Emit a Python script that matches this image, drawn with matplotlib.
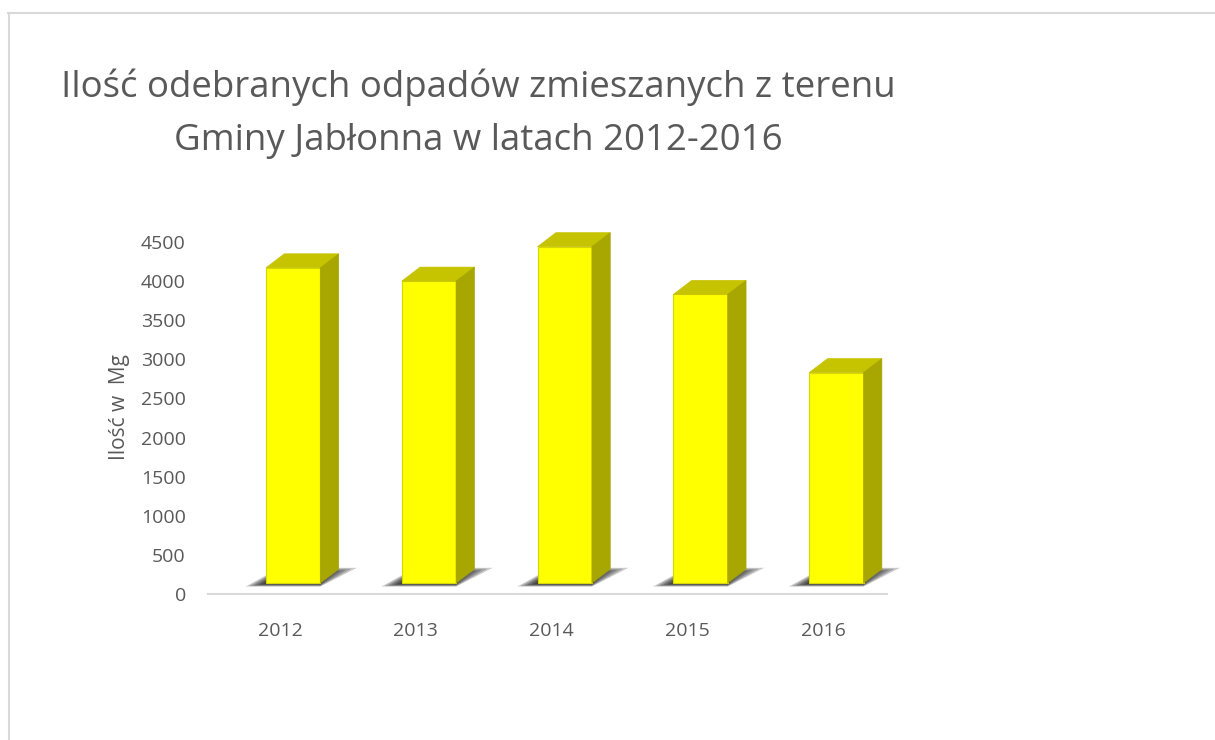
import matplotlib
matplotlib.use('Agg')
from matplotlib import pyplot as plt
from matplotlib.patches import Polygon
from matplotlib.lines import Line2D

years = ['2012', '2013', '2014', '2015', '2016']
amounts = [4170, 4000, 4440, 3830, 2830]
y_ticks = [0, 500, 1000, 1500, 2000, 2500, 3000, 3500, 4000, 4500]

title_line1 = 'Ilość odebranych odpadów zmieszanych z terenu'
title_line2 = 'Gminy Jabłonna w latach 2012-2016'
y_label = 'Ilość w  Mg'

plt.rcParams['font.family'] = ['Open Sans', 'DejaVu Sans']
text_color = '#595959'

fig = plt.figure(figsize=(12.15, 7.40), dpi=100)
ax = fig.add_axes([208 / 1215, 146 / 740, 679 / 1215, 352 / 740])

# pseudo 3d geometry (data units)
floor = 140
depth_x = 0.135
depth_y = 179
bar_w = 0.40
shift = -0.073

for i, val in enumerate(amounts):
    left = i + shift
    right = left + bar_w
    # soft shadow on the floor, stacked translucent layers
    for k in range(6):
        shadow = Polygon([(left - 0.15 + 0.025 * k, 95 + 6 * k),
                          (right, 95 + 6 * k),
                          (right + 0.27 - 0.04 * k, 335 - 12 * k),
                          (left + 0.1, 335 - 12 * k)],
                         closed=True, facecolor='black', edgecolor='none',
                         alpha=0.2, zorder=1, clip_on=False)
        ax.add_patch(shadow)
    ax.bar(left, val - floor, width=bar_w, bottom=floor, align='edge',
           color='#ffff00', edgecolor='#d8d800', linewidth=0.8, zorder=3,
           clip_on=False)
    top = Polygon([(left, val), (right, val),
                   (right + depth_x, val + depth_y), (left + depth_x, val + depth_y)],
                  closed=True, facecolor='#c6c300', edgecolor='#c6c300',
                  linewidth=0.5, zorder=3, clip_on=False)
    side = Polygon([(right, floor), (right + depth_x, floor + depth_y),
                    (right + depth_x, val + depth_y), (right, val)],
                   closed=True, facecolor='#a8a600', edgecolor='#a8a600',
                   linewidth=0.5, zorder=3, clip_on=False)
    ax.add_patch(top)
    ax.add_patch(side)

ax.set_xlim(-0.5, 4.5)
ax.set_ylim(0, 4500)
ax.set_xticks([i + 0.03 for i in range(len(years))])
ax.set_xticklabels(years)
ax.set_yticks(y_ticks)
ax.set_yticklabels([str(t) for t in y_ticks])
ax.tick_params(axis='both', length=0, labelsize=14, colors=text_color)
ax.tick_params(axis='x', pad=20)
ax.tick_params(axis='y', pad=16)
for s in ['top', 'right', 'left']:
    ax.spines[s].set_visible(False)
ax.spines['bottom'].set_color('#d9d9d9')
ax.spines['bottom'].set_linewidth(1.5)
ax.patch.set_alpha(0)

fig.text(120 / 1215, 1 - 407 / 740, y_label, rotation=90, ha='center', va='center',
         fontsize=15, color=text_color)
fig.text(478 / 1215, 1 - 97 / 740, title_line1, ha='center', va='baseline',
         fontsize=26.4, color=text_color)
fig.text(478 / 1215, 1 - 150 / 740, title_line2, ha='center', va='baseline',
         fontsize=26.4, color=text_color)

# chart border (only top and left edges are in view)
fig.add_artist(Line2D([8 / 1215, 1], [1 - 13 / 740, 1 - 13 / 740],
                      color='#d9d9d9', linewidth=1.5))
fig.add_artist(Line2D([9 / 1215, 9 / 1215], [0, 1 - 13 / 740],
                      color='#d9d9d9', linewidth=1.5))

fig.savefig('out.png', dpi=100)
